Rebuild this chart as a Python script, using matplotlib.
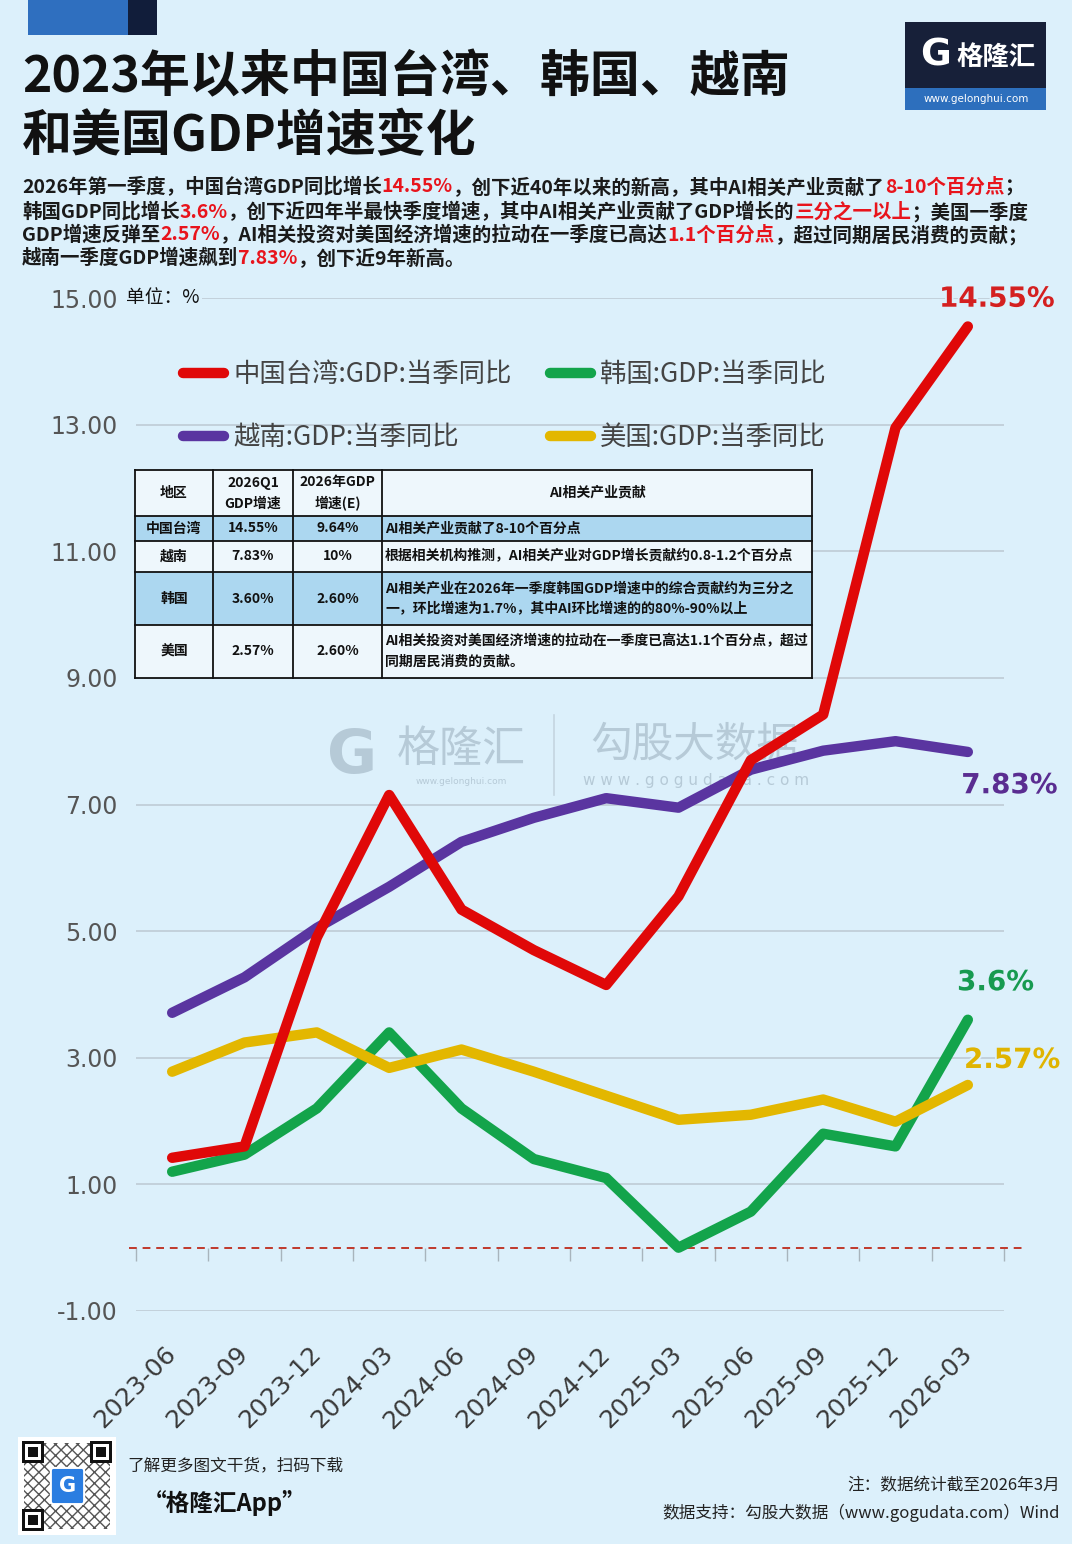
import matplotlib
matplotlib.use('Agg')
import matplotlib.pyplot as plt
from matplotlib.patches import Rectangle, FancyBboxPatch
from matplotlib.lines import Line2D
from matplotlib.ticker import FormatStrFormatter
import matplotlib.patheffects as pe

plt.rcParams['font.family'] = ['Noto Sans CJK SC', 'DejaVu Sans']

# ---------------- data ----------------
quarters = ['2023-06', '2023-09', '2023-12', '2024-03', '2024-06', '2024-09',
            '2024-12', '2025-03', '2025-06', '2025-09', '2025-12', '2026-03']
taiwan = [1.42, 1.60, 4.90, 7.15, 5.34, 4.70, 4.15, 5.55, 7.70, 8.42, 12.95, 14.55]
vietnam = [3.71, 4.27, 5.05, 5.70, 6.41, 6.79, 7.10, 6.95, 7.55, 7.85, 8.00, 7.83]
korea = [1.20, 1.47, 2.20, 3.40, 2.20, 1.40, 1.10, 0.00, 0.57, 1.80, 1.60, 3.60]
usa = [2.78, 3.24, 3.40, 2.84, 3.13, 2.78, 2.40, 2.02, 2.10, 2.34, 1.99, 2.57]

series_names = ['中国台湾:GDP:当季同比', '越南:GDP:当季同比', '韩国:GDP:当季同比', '美国:GDP:当季同比']
end_labels = ['14.55%', '7.83%', '3.6%', '2.57%']
yticks = [-1, 1, 3, 5, 7, 9, 11, 13, 15]

table_header = ['地区', '2026Q1\nGDP增速', '2026年GDP\n增速(E)', 'AI相关产业贡献']
table_regions = ['中国台湾', '越南', '韩国', '美国']
table_q1 = ['14.55%', '7.83%', '3.60%', '2.57%']
table_2026e = ['9.64%', '10%', '2.60%', '2.60%']
table_ai = ['AI相关产业贡献了8-10个百分点',
            '根据相关机构推测，AI相关产业对GDP增长贡献约0.8-1.2个百分点',
            'AI相关产业在2026年一季度韩国GDP增速中的综合贡献约为三分之\n一，环比增速为1.7%，其中AI环比增速的的80%-90%以上',
            'AI相关投资对美国经济增速的拉动在一季度已高达1.1个百分点，超过\n同期居民消费的贡献。']

# ---------------- style ----------------
W, H = 1072, 1544
BG = '#dcf0fb'
RED = '#e00808'
PURPLE = '#5a35a0'
GREEN = '#13a44b'
YELLOW = '#e3b700'
HL = '#e8141c'
DARK = '#1a1a1a'

fig = plt.figure(figsize=(W / 100, H / 100), dpi=100)
fig.patch.set_facecolor(BG)


def fx(px):
    return px / W


def fy(py):
    return 1 - py / H


def rect_px(x0, y0, x1, y1, **kw):
    r = Rectangle((fx(x0), fy(y1)), fx(x1) - fx(x0), fy(y0) - fy(y1),
                  transform=fig.transFigure, **kw)
    fig.patches.append(r)
    return r


# ---------------- header decorations ----------------
rect_px(28, 0, 128, 35, facecolor='#2f6fbf', lw=0)
rect_px(128, 0, 157, 35, facecolor='#111d3a', lw=0)

rect_px(905, 22, 1046, 88, facecolor='#172039', lw=0)
rect_px(905, 88, 1046, 110, facecolor='#2d6fbd', lw=0)
fig.text(fx(936), fy(56), 'G', color='white', fontsize=27, fontweight='bold',
         family='DejaVu Sans', ha='center', va='center')
fig.text(fx(996), fy(57), '格隆汇', color='white', fontsize=19, fontweight='bold',
         ha='center', va='center')
fig.text(fx(976), fy(99), 'www.gelonghui.com', color='white', fontsize=7.5,
         family='DejaVu Sans', ha='center', va='center')

fig.text(fx(22), fy(78), '2023年以来中国台湾、韩国、越南', fontsize=36,
         fontweight='bold', color='#111111', va='center', ha='left')
fig.text(fx(22), fy(137), '和美国GDP增速变化', fontsize=36,
         fontweight='bold', color='#111111', va='center', ha='left')

renderer = fig.canvas.get_renderer()


def rich_line(x_px, y_px, segs, size):
    x = fx(x_px)
    for s, c in segs:
        t = fig.text(x, fy(y_px), s, color=c, fontsize=size, fontweight='bold',
                     va='center', ha='left')
        bb = t.get_window_extent(renderer)
        x += bb.width / W


sub_size = 14.0
rich_line(22, 187, [('2026年第一季度，中国台湾GDP同比增长', DARK), ('14.55%', HL),
                    ('，创下近40年以来的新高，其中AI相关产业贡献了', DARK), ('8-10个百分点', HL),
                    ('；', DARK)], sub_size)
rich_line(22, 212, [('韩国GDP同比增长', DARK), ('3.6%', HL),
                    ('，创下近四年半最快季度增速，其中AI相关产业贡献了GDP增长的', DARK),
                    ('三分之一以上', HL), ('；美国一季度', DARK)], sub_size)
rich_line(22, 235, [('GDP增速反弹至', DARK), ('2.57%', HL),
                    ('，AI相关投资对美国经济增速的拉动在一季度已高达', DARK),
                    ('1.1个百分点', HL), ('，超过同期居民消费的贡献；', DARK)], sub_size)
rich_line(22, 258, [('越南一季度GDP增速飙到', DARK), ('7.83%', HL),
                    ('，创下近9年新高。', DARK)], sub_size)

# ---------------- watermark (behind the chart) ----------------
WM = '#b6cad7'
fig.text(fx(352), fy(756), 'G', color=WM, fontsize=44, fontweight='bold',
         family='DejaVu Sans', ha='center', va='center', zorder=-1)
fig.text(fx(461), fy(750), '格隆汇', color=WM, fontsize=31, ha='center',
         va='center', zorder=-1)
fig.text(fx(461), fy(782), 'www.gelonghui.com', color=WM, fontsize=6.5,
         family='DejaVu Sans', ha='center', va='center', zorder=-1)
fig.add_artist(Line2D([fx(554), fx(554)], [fy(715), fy(795)], color='#c4d5e0',
                      lw=1.2, transform=fig.transFigure, zorder=-1))
fig.text(fx(694), fy(745), '勾股大数据', color=WM, fontsize=30, ha='center',
         va='center', zorder=-1)
fig.text(fx(696), fy(780), 'w w w . g o g u d a t a . c o m', color=WM,
         fontsize=11, family='DejaVu Sans', ha='center', va='center', zorder=-1)

# ---------------- chart ----------------
ax = fig.add_axes([fx(136), fy(1311), fx(1004) - fx(136), fy(298) - fy(1311)])
ax.patch.set_visible(False)
ax.set_xlim(-0.5, len(quarters) - 0.5)
ax.set_ylim(-1, 15)

xs = list(range(len(quarters)))
plot_series = [(vietnam, PURPLE, 3), (korea, GREEN, 4), (usa, YELLOW, 5), (taiwan, RED, 6)]
for vals, col, z in plot_series:
    ax.plot(xs, vals, color=col, lw=7.5, solid_capstyle='round',
            solid_joinstyle='round', zorder=z)

ax.set_yticks(yticks)
ax.yaxis.set_major_formatter(FormatStrFormatter('%.2f'))
ax.yaxis.grid(True, color='#c3d1db', lw=1.4)
ax.set_axisbelow(True)
ax.tick_params(axis='y', length=0, pad=13, labelsize=17, labelcolor='#555555')
for lbl in ax.get_yticklabels():
    lbl.set_fontfamily('DejaVu Sans')

for s in ['left', 'right', 'top']:
    ax.spines[s].set_visible(False)
ax.spines['bottom'].set_position(('data', 0))
ax.spines['bottom'].set_visible(False)

ax.set_xticks(xs)
ax.set_xticklabels(quarters)
ax.set_xticks([i - 0.5 for i in range(len(quarters) + 1)], minor=True)
ax.tick_params(axis='x', which='major', length=0, pad=74, labelsize=18,
               labelcolor='#3a3a3a')
ax.tick_params(axis='x', which='minor', length=9, width=1.0, color='#a8b4bc',
               direction='out')
for lbl in ax.get_xticklabels():
    lbl.set_fontfamily('DejaVu Sans')
    lbl.set_rotation(45)
    lbl.set_ha('right')
    lbl.set_va('center')
    lbl.set_rotation_mode('anchor')

ax.axhline(0, xmin=-0.008, xmax=1.024, color='#c0392b', lw=1.4,
           ls=(0, (4, 3)), clip_on=False, zorder=2)

fig.text(fx(126), fy(298), '单位：%', fontsize=13.5, color='#111111', va='center',
         ha='left', bbox=dict(facecolor=BG, edgecolor='none', pad=1.5))

# legend
handles = [Line2D([], [], color=c, lw=7.5, solid_capstyle='round')
           for c in [RED, PURPLE, GREEN, YELLOW]]
leg = ax.legend(handles, series_names, loc='upper left',
                bbox_to_anchor=(fx(183), fy(361)), bbox_transform=fig.transFigure,
                ncol=2, frameon=False, fontsize=19, handlelength=1.55,
                handletextpad=0.35, columnspacing=1.45, labelspacing=1.36,
                borderaxespad=0, borderpad=0)
for t in leg.get_texts():
    t.set_color('#444444')

# end labels
for vals, lab, col, off in [(taiwan, end_labels[0], '#d42020', (21, 20)),
                            (vietnam, end_labels[1], '#5a2d91', (30, -24)),
                            (korea, end_labels[2], '#179a50', (20, 27)),
                            (usa, end_labels[3], '#e0b400', (32, 18))]:
    ax.annotate(lab, (len(vals) - 1, vals[-1]), xytext=off, textcoords='offset points',
                ha='center', va='center', fontsize=20, fontweight='bold', color=col,
                family='DejaVu Sans', annotation_clip=False, zorder=10,
                path_effects=[pe.withStroke(linewidth=2.5, foreground=BG)])

# ---------------- table ----------------
col_edges = [135, 213, 293, 382, 812]
row_edges = [470, 516, 541, 572, 625, 678]
row_colors = ['#eef7fc', '#acd7f0', '#eef7fc', '#acd7f0', '#eef7fc']
for r in range(5):
    rect_px(col_edges[0], row_edges[r], col_edges[-1], row_edges[r + 1],
            facecolor=row_colors[r], lw=0, zorder=8)
for xe in col_edges:
    fig.add_artist(Line2D([fx(xe), fx(xe)], [fy(row_edges[0]), fy(row_edges[-1])],
                          color='#111111', lw=1.3, transform=fig.transFigure, zorder=9))
for ye in row_edges:
    fig.add_artist(Line2D([fx(col_edges[0]), fx(col_edges[-1])], [fy(ye), fy(ye)],
                          color='#111111', lw=1.3, transform=fig.transFigure, zorder=9))

rows = [table_header] + [[a, b, c, d] for a, b, c, d in
                         zip(table_regions, table_q1, table_2026e, table_ai)]
for r, row in enumerate(rows):
    yc = (row_edges[r] + row_edges[r + 1]) / 2
    for c, txt in enumerate(row):
        if c < 3 or r == 0:
            xc = (col_edges[c] + col_edges[c + 1]) / 2
            ha = 'center'
        else:
            xc = col_edges[c] + 3
            ha = 'left'
        fig.text(fx(xc), fy(yc), txt, fontsize=10, fontweight='bold', color='#111111',
                 ha=ha, va='center', linespacing=1.6, zorder=10,
                 multialignment='center' if ha == 'center' else 'left')

# ---------------- footer ----------------
rect_px(18, 1437, 116, 1535, facecolor='white', lw=0)
rect_px(24, 1443, 110, 1529, facecolor='none', edgecolor='#555555', hatch='xxx', lw=0)
for (qx, qy) in [(22, 1441), (90, 1441), (22, 1509)]:
    rect_px(qx, qy, qx + 22, qy + 22, facecolor='#111111', lw=0)
    rect_px(qx + 3, qy + 3, qx + 19, qy + 19, facecolor='white', lw=0)
    rect_px(qx + 6, qy + 6, qx + 16, qy + 16, facecolor='#111111', lw=0)
qb = FancyBboxPatch((fx(53), fy(1501)), fx(82) - fx(53), fy(1471) - fy(1501),
                    boxstyle='round,pad=0.002', transform=fig.transFigure,
                    facecolor='#2a7de1', edgecolor='white', lw=1.5)
fig.patches.append(qb)
fig.text(fx(67.5), fy(1486), 'G', color='white', fontsize=15, fontweight='bold',
         family='DejaVu Sans', ha='center', va='center')

fig.text(fx(127), fy(1466), '了解更多图文干货，扫码下载', fontsize=12, color='#222222',
         ha='left', va='center')
fig.text(fx(225), fy(1503), '“格隆汇App”', fontsize=17, fontweight='bold',
         color='#111111', ha='center', va='center')
fig.text(fx(1060), fy(1486), '注：数据统计截至2026年3月', fontsize=12, color='#222222',
         ha='right', va='center')
fig.text(fx(1060), fy(1513), '数据支持：勾股大数据（www.gogudata.com）Wind', fontsize=12,
         color='#222222', ha='right', va='center')

fig.savefig('out.png', dpi=100, facecolor=BG)
